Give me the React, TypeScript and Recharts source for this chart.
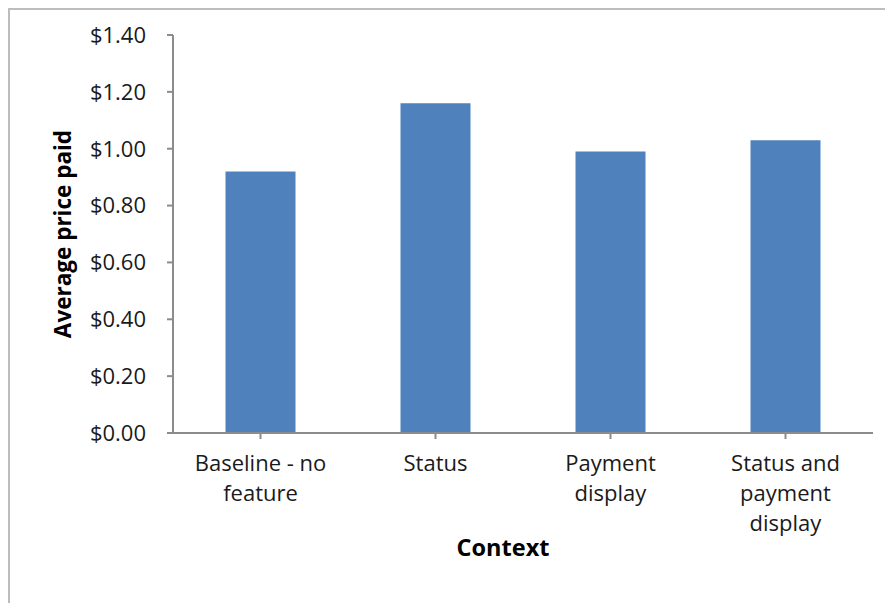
import React from "react";
import { BarChart, Bar, XAxis, YAxis, Label } from "recharts";

const categories = [
  "Baseline - no feature",
  "Status",
  "Payment display",
  "Status and payment display",
];
const averagePrice = [0.92, 1.16, 0.99, 1.03];
const yTicks = [0, 0.2, 0.4, 0.6, 0.8, 1.0, 1.2, 1.4];
const categoryLines: Record<string, string[]> = {
  "Baseline - no feature": ["Baseline - no", "feature"],
  Status: ["Status"],
  "Payment display": ["Payment", "display"],
  "Status and payment display": ["Status and", "payment", "display"],
};

const data = categories.map((c, i) => ({ name: c, value: averagePrice[i] }));

const FONT = "'Open Sans', 'DejaVu Sans', sans-serif";
const AXIS = "#8c8c8c";

const XTick = (props: any) => {
  const { x, y, payload } = props;
  const lines = categoryLines[payload.value] || [payload.value];
  return (
    <text
      x={x}
      y={y + 30}
      textAnchor="middle"
      fill="#1a1a1a"
      fontFamily={FONT}
      fontSize={22}
    >
      {lines.map((l, i) => (
        <tspan key={i} x={x} dy={i === 0 ? 0 : 30}>
          {l}
        </tspan>
      ))}
    </text>
  );
};

export default function App() {
  return (
    <div
      style={{
        width: 885,
        height: 595,
        borderTop: "2px solid #bdbdbd",
        borderLeft: "2px solid #bdbdbd",
        boxSizing: "border-box",
        background: "#fff",
      }}
    >
      <BarChart
        width={883}
        height={593}
        data={data}
        margin={{ top: 25, right: 20, left: 0, bottom: 0 }}
        barCategoryGap="30%"
      >
        <XAxis
          dataKey="name"
          height={170}
          stroke={AXIS}
          strokeWidth={2}
          tickLine={{ stroke: AXIS, strokeWidth: 2 }}
          tickSize={6}
          interval={0}
          tick={<XTick />}
        >
          <Label
            content={(p: any) => {
              const vb = p.viewBox;
              return (
                <text
                  x={vb.x + vb.width / 2 - 20}
                  y={vb.y + 114}
                  textAnchor="middle"
                  dominantBaseline="central"
                  fontFamily={FONT}
                  fontWeight="bold"
                  fontSize={23.5}
                  fill="#000"
                >
                  Context
                </text>
              );
            }}
          />
        </XAxis>
        <YAxis
          width={163}
          domain={[0, 1.4]}
          ticks={yTicks}
          stroke={AXIS}
          strokeWidth={2}
          tickLine={{ stroke: AXIS, strokeWidth: 2 }}
          tickSize={6}
          tickMargin={21}
          tick={{ fill: "#1a1a1a", fontFamily: FONT, fontSize: 22 }}
          tickFormatter={(v: number) => `$${v.toFixed(2)}`}
        >
          <Label
            content={(p: any) => {
              const vb = p.viewBox;
              const cx = vb.x + 52;
              const cy = vb.y + vb.height / 2;
              return (
                <text
                  x={cx}
                  y={cy}
                  transform={`rotate(-90 ${cx} ${cy})`}
                  textAnchor="middle"
                  dominantBaseline="central"
                  fontFamily={FONT}
                  fontWeight="bold"
                  fontSize={22.5}
                  fill="#000"
                >
                  Average price paid
                </text>
              );
            }}
          />
        </YAxis>
        <Bar dataKey="value" fill="#4f81bd" isAnimationActive={false} />
      </BarChart>
    </div>
  );
}
